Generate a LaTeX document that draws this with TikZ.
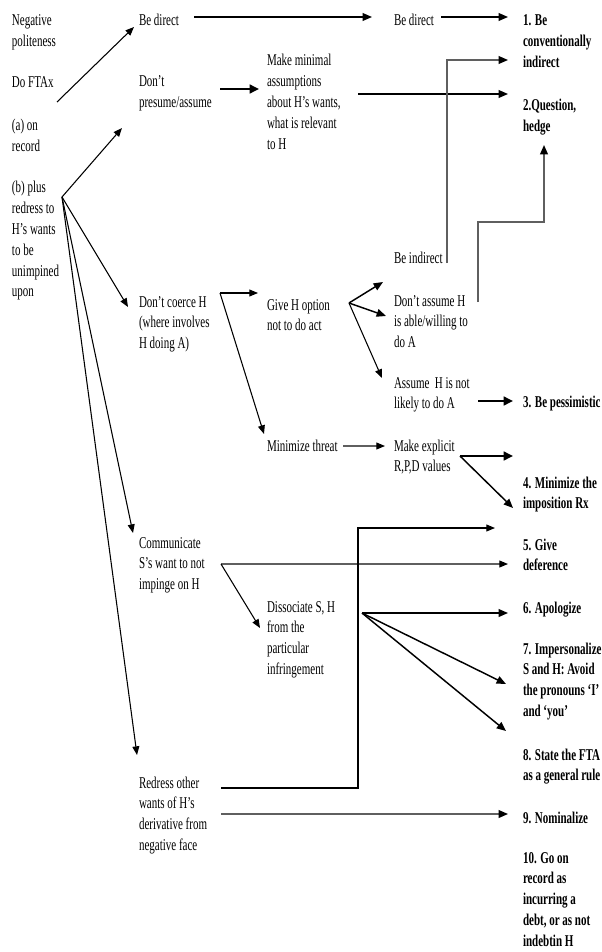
\documentclass[tikz,border=0pt]{standalone}
\usepackage{fontspec}
\setmainfont{Liberation Serif}
\usepackage{graphicx}
\usetikzlibrary{arrows.meta}
\newcommand{\mytxt}[1]{\scalebox{1}[1.5]{\fontsize{8.25pt}{10.4pt}\selectfont\begin{tabular}[t]{@{}l@{}}#1\end{tabular}}}
\newcommand{\mybold}[1]{\scalebox{1}[1.5]{\fontsize{8.25pt}{10.4pt}\selectfont\bfseries\begin{tabular}[t]{@{}l@{}}#1\end{tabular}}}
\definecolor{lgray}{RGB}{95,95,95}
\tikzset{
  tx/.style={anchor=base west, inner sep=0pt, outer sep=0pt},
  thinarr/.style={line width=0.8pt, -{Triangle[length=6.5pt,width=5.2pt,color=black]}},
  medarr/.style={line width=1.1pt, -{Triangle[length=7pt,width=5.8pt,color=black]}},
  thickarr/.style={line width=2.1pt, -{Triangle[length=7pt,width=6.5pt,color=black]}},
  grayln/.style={draw=lgray},
}
\begin{document}
\begin{tikzpicture}[x=0.75pt,y=-0.75pt]
\useasboundingbox (0,0) rectangle (601,952);
% ---- text nodes
\node[tx] (neg) at (12,26) {\mytxt{Negative\\politeness}};
\node[tx] (dofta) at (12,88) {\mytxt{Do FTAx}};
\node[tx] (aon) at (12,131) {\mytxt{(a) on\\record}};
\node[tx] (bplus) at (12,193) {\mytxt{(b) plus\\redress to\\H’s wants\\to be\\unimpined\\upon}};
\node[tx] (bedirectA) at (139,26) {\mytxt{Be direct}};
\node[tx] (dontpresume) at (139,87) {\mytxt{Don’t\\presume/assume}};
\node[tx] (makemin) at (267,66) {\mytxt{Make minimal\\assumptions\\about H’s wants,\\what is relevant\\to H}};
\node[tx] (dontcoerce) at (139,307) {\mytxt{Don’t coerce H\\(where involves\\H doing A)}};
\node[tx] (giveh) at (267,310) {\mytxt{Give H option\\not to do act}};
\node[tx] (minthreat) at (267,451) {\mytxt{Minimize threat}};
\node[tx] (communicate) at (139,548) {\mytxt{Communicate\\S’s want to not\\impinge on H}};
\node[tx] (dissociate) at (267,612) {\mytxt{Dissociate S, H\\from the\\particular\\infringement}};
\node[tx] (redress) at (139,788) {\mytxt{Redress other\\wants of H’s\\derivative from\\negative face}};
\node[tx] (bedirectB) at (394,26) {\mytxt{Be direct}};
\node[tx] (beindirect) at (394,263) {\mytxt{Be indirect}};
\node[tx] (dontassume) at (394,306) {\mytxt{Don’t assume H\\is able/willing to\\do A}};
\node[tx] (assume) at (394,388) {\mytxt{Assume\ \ H is not\\likely to do A}};
\node[tx] (makeexp) at (394,451) {\mytxt{Make explicit\\R,P,D values}};
\node[tx] (s1) at (523,26) {\mybold{1. Be\\conventionally\\indirect}};
\node[tx] (s2) at (523,111) {\mybold{2.Question,\\hedge}};
\node[tx] (s3) at (523,407) {\mybold{3. Be pessimistic}};
\node[tx] (s4) at (523,488) {\mybold{4. Minimize the\\imposition Rx}};
\node[tx] (s5) at (523,550) {\mybold{5. Give\\deference}};
\node[tx] (s6) at (523,613) {\mybold{6. Apologize}};
\node[tx] (s7) at (523,654) {\mybold{7. Impersonalize\\S and H: Avoid\\the pronouns ‘I’\\and ‘you’}};
\node[tx] (s8) at (523,760) {\mybold{8. State the FTA\\as a general rule}};
\node[tx] (s9) at (523,823) {\mybold{9. Nominalize}};
\node[tx] (s10) at (523,863) {\mybold{10. Go on\\record as\\incurring a\\debt, or as not\\indebtin H}};
% ---- connector end points
\coordinate (fta-o) at (57,102);
\coordinate (fta-t) at (134,27);
\coordinate (bp-o) at (62,197);
\coordinate (bp-t1) at (122,128);
\coordinate (bp-t2) at (128,307);
\coordinate (bp-t3) at (133,533);
\coordinate (bp-t4) at (137,755);
\coordinate (bdA-o) at (194,17);
\coordinate (bdA-t) at (372,17);
\coordinate (bdB-o) at (441,17);
\coordinate (bdB-t) at (508,17);
\coordinate (dp-o) at (220,89);
\coordinate (dp-t) at (259,89);
\coordinate (mm-o) at (358,94);
\coordinate (mm-t) at (508,94);
\coordinate (bi-o) at (447,263);
\coordinate (bi-k) at (447,60);
\coordinate (bi-t) at (508,60);
\coordinate (da-o) at (478,302);
\coordinate (da-k1) at (478,222);
\coordinate (da-k2) at (544,222);
\coordinate (da-t) at (544,145);
\coordinate (dc-o) at (220,293);
\coordinate (dc-t1) at (258,293);
\coordinate (dc-t2) at (264,434);
\coordinate (gh-o) at (349,303);
\coordinate (gh-t1) at (383,282);
\coordinate (gh-t2) at (386,316);
\coordinate (gh-t3) at (382,378);
\coordinate (mt-o) at (343,446);
\coordinate (mt-t) at (385,446);
\coordinate (as-o) at (478,401);
\coordinate (as-t) at (513,401);
\coordinate (me-o) at (460,456);
\coordinate (me-t1) at (513,456);
\coordinate (me-t2) at (513,508);
\coordinate (co-o) at (221,564);
\coordinate (co-t1) at (508,564);
\coordinate (co-t2) at (260,628);
\coordinate (rd-o1) at (221,788);
\coordinate (rd-k1) at (358,788);
\coordinate (rd-k2) at (358,528);
\coordinate (rd-t1) at (495,528);
\coordinate (rd-o2) at (221,814);
\coordinate (rd-t2) at (508,814);
\coordinate (di-o) at (362,613);
\coordinate (di-t1) at (508,613);
\coordinate (di-t2) at (506,684);
\coordinate (di-t3) at (506,731);
% ---- connectors
\draw[thinarr] (fta-o) -- (fta-t);
\draw[thinarr] (bp-o) -- (bp-t1);
\draw[thinarr] (bp-o) -- (bp-t2);
\draw[thinarr] (bp-o) -- (bp-t3);
\draw[thinarr] (bp-o) -- (bp-t4);
\draw[medarr] (bdA-o) -- (bdA-t);
\draw[medarr] (bdB-o) -- (bdB-t);
\draw[thickarr] (dp-o) -- (dp-t);
\draw[medarr] (mm-o) -- (mm-t);
\draw[medarr, grayln] (bi-o) -- (bi-k) -- (bi-t);
\draw[medarr, grayln] (da-o) -- (da-k1) -- (da-k2) -- (da-t);
\draw[thinarr] (dc-o) -- (dc-t1);
\draw[thinarr] (dc-o) -- (dc-t2);
\draw[medarr] (gh-o) -- (gh-t1);
\draw[medarr] (gh-o) -- (gh-t2);
\draw[thinarr] (gh-o) -- (gh-t3);
\draw[thinarr, grayln] (mt-o) -- (mt-t);
\draw[thickarr] (as-o) -- (as-t);
\draw[thickarr] (me-o) -- (me-t1);
\draw[medarr] (me-o) -- (me-t2);
\draw[thinarr, grayln] (co-o) -- (co-t1);
\draw[thinarr] (co-o) -- (co-t2);
\draw[thinarr] (rd-o1) -- (rd-k1) -- (rd-k2) -- (rd-t1);
\draw[medarr, grayln] (rd-o2) -- (rd-t2);
\draw[medarr] (di-o) -- (di-t1);
\draw[medarr] (di-o) -- (di-t2);
\draw[medarr] (di-o) -- (di-t3);
\end{tikzpicture}
\end{document}
